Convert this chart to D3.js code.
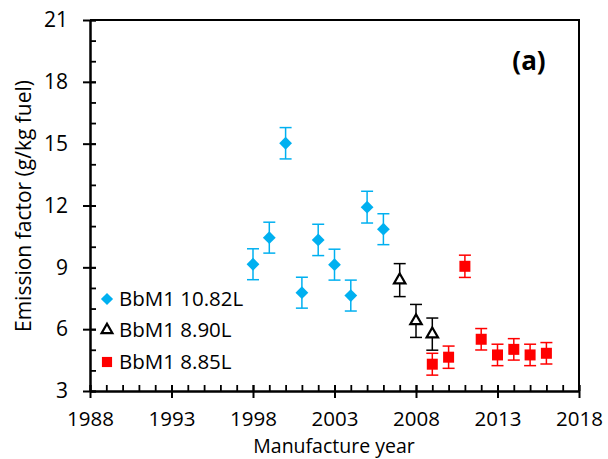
<!DOCTYPE html>
<html>
<head>
<meta charset="utf-8">
<script src="https://cdn.jsdelivr.net/npm/d3@7"></script>
<style>
  body { margin: 0; background: #fff; }
  svg text { font-family: "Open Sans", sans-serif; fill: #000; }
</style>
</head>
<body>
<div id="chart"></div>
<script>
// Series: year, emission factor, error (+/-)
const blueYears = [1998, 1999, 2000, 2001, 2002, 2003, 2004, 2005, 2006];
const blueValues = [9.15, 10.44, 15.02, 7.77, 10.33, 9.13, 7.63, 11.92, 10.85];
const blueErrors = [0.75, 0.75, 0.76, 0.75, 0.76, 0.75, 0.75, 0.77, 0.75];

const blackYears = [2007, 2008, 2009];
const blackValues = [8.38, 6.40, 5.76];
const blackErrors = [0.8, 0.8, 0.78];

const redYears = [2009, 2010, 2011, 2012, 2013, 2014, 2015, 2016];
const redValues = [4.30, 4.64, 9.05, 5.51, 4.75, 5.02, 4.75, 4.83];
const redErrors = [0.53, 0.54, 0.54, 0.52, 0.52, 0.52, 0.52, 0.52];

const seriesLabels = ['BbM1 10.82L', 'BbM1 8.90L', 'BbM1 8.85L'];
const xTicks = [1988, 1993, 1998, 2003, 2008, 2013, 2018];
const yTicks = [3, 6, 9, 12, 15, 18, 21];

const width = 608, height = 459;
const margin = { top: 20, right: 29, bottom: 68, left: 90 };

const svg = d3.select('#chart').append('svg')
    .attr('width', width)
    .attr('height', height);

const x = d3.scaleLinear().domain([1988, 2018]).range([margin.left, width - margin.right]);
const y = d3.scaleLinear().domain([3, 21]).range([height - margin.bottom, margin.top]);

// plot frame (top and right)
svg.append('path')
    .attr('d', `M${x(1988)},${y(21)}H${x(2018)}V${y(3)}`)
    .attr('fill', 'none')
    .attr('stroke', '#000')
    .attr('stroke-width', 2);

// minor ticks, inside
svg.append('g')
    .attr('transform', `translate(0,${y(3)})`)
    .call(d3.axisBottom(x).tickValues(d3.range(1988, 2019)).tickSize(-6).tickFormat(''))
    .call(g => g.select('.domain').remove())
    .call(g => g.selectAll('line').attr('stroke-width', 1.8));

svg.append('g')
    .attr('transform', `translate(${x(1988)},0)`)
    .call(d3.axisLeft(y).tickValues(d3.range(3, 22)).tickSize(-6).tickFormat(''))
    .call(g => g.select('.domain').remove())
    .call(g => g.selectAll('line').attr('stroke-width', 1.8));

// major axes, ticks crossing the axis line
const xAxis = svg.append('g')
    .attr('transform', `translate(0,${y(3)})`)
    .call(d3.axisBottom(x).tickValues(xTicks).tickSize(7).tickPadding(13).tickSizeOuter(0).tickFormat(d3.format('d')));
xAxis.selectAll('.tick line').attr('y1', -6).attr('stroke-width', 2);
xAxis.select('.domain').attr('stroke-width', 2.5);
xAxis.selectAll('text').attr('font-size', 20.5);

const yAxis = svg.append('g')
    .attr('transform', `translate(${x(1988)},0)`)
    .call(d3.axisLeft(y).tickValues(yTicks).tickSize(7).tickPadding(15).tickSizeOuter(0));
yAxis.selectAll('.tick line').attr('x1', 6).attr('stroke-width', 2);
yAxis.select('.domain').attr('stroke-width', 2.5);
yAxis.selectAll('text').attr('font-size', 21);

// axis titles
svg.append('text')
    .attr('x', 334)
    .attr('y', 453)
    .attr('text-anchor', 'middle')
    .attr('font-size', 19.5)
    .text('Manufacture year');

svg.append('text')
    .attr('transform', 'translate(31,206) rotate(-90)')
    .attr('text-anchor', 'middle')
    .attr('font-size', 21)
    .text('Emission factor (g/kg fuel)');

svg.append('text')
    .attr('x', 529)
    .attr('y', 70)
    .attr('text-anchor', 'middle')
    .attr('font-size', 26)
    .attr('font-weight', 'bold')
    .text('(a)');

// square diamond: a square turned 45 degrees
const series = [
    { years: blueYears, values: blueValues, errors: blueErrors, color: '#00B0F0', symbol: d3.symbolSquare, size: 82, rotate: 45, fill: '#00B0F0', stroke: 'none' },
    { years: blackYears, values: blackValues, errors: blackErrors, color: '#000', symbol: d3.symbolTriangle, size: 56, rotate: 0, fill: '#fff', stroke: '#000' },
    { years: redYears, values: redValues, errors: redErrors, color: '#FF0000', symbol: d3.symbolSquare, size: 121, rotate: 0, fill: '#FF0000', stroke: 'none' }
];

series.forEach(s => {
    const pts = s.years.map((yr, i) => ({ yr, v: s.values[i], e: s.errors[i] }));
    const g = svg.append('g');

    // error bars
    const eb = g.selectAll('.err').data(pts).enter().append('g')
        .attr('stroke', s.color)
        .attr('stroke-width', 1.5);
    eb.append('line')
        .attr('x1', d => x(d.yr)).attr('x2', d => x(d.yr))
        .attr('y1', d => y(d.v + d.e)).attr('y2', d => y(d.v - d.e));
    eb.append('line')
        .attr('x1', d => x(d.yr) - 6).attr('x2', d => x(d.yr) + 6)
        .attr('y1', d => y(d.v + d.e)).attr('y2', d => y(d.v + d.e));
    eb.append('line')
        .attr('x1', d => x(d.yr) - 6).attr('x2', d => x(d.yr) + 6)
        .attr('y1', d => y(d.v - d.e)).attr('y2', d => y(d.v - d.e));

    // markers
    g.selectAll('.pt').data(pts).enter().append('path')
        .attr('transform', d => `translate(${x(d.yr)},${y(d.v)}) rotate(${s.rotate})`)
        .attr('d', d3.symbol().type(s.symbol).size(s.size))
        .attr('fill', s.fill)
        .attr('stroke', s.stroke)
        .attr('stroke-width', 2.2);
});

// legend
const legendY = [299, 330, 362];
series.forEach((s, i) => {
    svg.append('path')
        .attr('transform', `translate(107,${legendY[i]}) rotate(${s.rotate})`)
        .attr('d', d3.symbol().type(s.symbol).size(s.size * (i === 2 ? 0.85 : 0.9)))
        .attr('fill', s.fill)
        .attr('stroke', s.stroke)
        .attr('stroke-width', 2.2);
    svg.append('text')
        .attr('x', 119)
        .attr('y', legendY[i])
        .attr('dy', '0.35em')
        .attr('font-size', 20.5)
        .text(seriesLabels[i]);
});
</script>
</body>
</html>
